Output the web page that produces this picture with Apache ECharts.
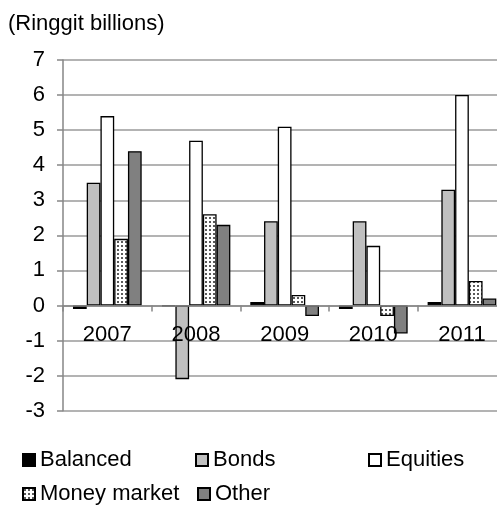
<!DOCTYPE html>
<html>
<head>
<meta charset="utf-8">
<script src="https://cdn.jsdelivr.net/npm/echarts@6/dist/echarts.min.js"></script>
<style>
  html, body { margin: 0; padding: 0; background: #fff; }
  #chart { width: 497px; height: 505px; }
</style>
</head>
<body>
<div id="chart"></div>
<script>
// Net sales by fund type, Ringgit billions
const years = ['2007', '2008', '2009', '2010', '2011'];
const balanced = [-0.1, -0.02, 0.1, -0.1, 0.1];
const bonds = [3.5, -2.1, 2.4, 2.4, 3.3];
const equities = [5.4, 4.7, 5.1, 1.7, 6.0];
const moneyMarket = [1.9, 2.6, 0.3, -0.3, 0.7];
const other = [4.4, 2.3, -0.3, -0.8, 0.2];
const yTicks = { min: -3, max: 7, step: 1 };

// Dotted fill used for the money market bars
function dotPattern() {
  const c = document.createElement('canvas');
  c.width = 4; c.height = 4;
  const ctx = c.getContext('2d');
  ctx.fillStyle = '#ffffff';
  ctx.fillRect(0, 0, 4, 4);
  ctx.fillStyle = '#5a5a5a';
  ctx.fillRect(1, 1, 2, 2);
  return c;
}

const FONT = 'Liberation Sans, Arial, sans-serif';
const FS = 22;
const border = { borderColor: '#000', borderWidth: 1.3 };

const GRID = { left: 63, top: 60, width: 443.3, height: 350.7 };
// Category axis sits on the value axis's zero line
const zeroOffset = -GRID.height * (0 - yTicks.min) / (yTicks.max - yTicks.min);

function bar(name, data, fill) {
  return {
    name, type: 'bar', data,
    barGap: '0%', barCategoryGap: '22.5%',
    itemStyle: Object.assign({ color: fill }, border)
  };
}

function legendAt(name, left, top) {
  return {
    data: [name], left, top, orient: 'horizontal',
    icon: 'rect', itemWidth: 12, itemHeight: 12, padding: 0,
    textStyle: { fontFamily: FONT, fontSize: FS, color: '#000' }
  };
}

const chart = echarts.init(document.getElementById('chart'), null, { renderer: 'canvas' });
chart.setOption({
  animation: false,
  backgroundColor: '#fff',
  title: {
    text: '(Ringgit billions)', left: 8, top: 13, padding: 0,
    textStyle: { fontFamily: FONT, fontSize: FS, fontWeight: 'normal', color: '#000' }
  },
  legend: [
    legendAt('Balanced', 22, 449),
    legendAt('Bonds', 195, 449),
    legendAt('Equities', 368, 449),
    legendAt('Money market', 22, 483),
    legendAt('Other', 197, 483)
  ],
  grid: Object.assign({ containLabel: false, outerBoundsMode: 'none' }, GRID),
  xAxis: {
    type: 'category', data: years, position: 'bottom', offset: zeroOffset, z: 5,
    axisLine: { show: true, onZero: false, lineStyle: { color: '#868686', width: 1.5 } },
    axisTick: { show: true, alignWithLabel: false, length: 6, lineStyle: { color: '#868686', width: 1.5 } },
    axisLabel: { margin: 18, fontFamily: FONT, fontSize: FS, color: '#000' }
  },
  yAxis: {
    type: 'value', min: yTicks.min, max: yTicks.max, interval: yTicks.step,
    axisLine: { show: true, lineStyle: { color: '#868686', width: 1.5 } },
    axisTick: { show: true, length: 6, lineStyle: { color: '#868686', width: 1.5 } },
    splitLine: { show: true, lineStyle: { color: '#9a9a9a', width: 1.5 } },
    axisLabel: { margin: 18, fontFamily: FONT, fontSize: FS, color: '#000' }
  },
  series: [
    bar('Balanced', balanced, '#000000'),
    bar('Bonds', bonds, '#c0c0c0'),
    bar('Equities', equities, '#ffffff'),
    bar('Money market', moneyMarket, { image: dotPattern(), repeat: 'repeat' }),
    bar('Other', other, '#808080')
  ]
});
</script>
</body>
</html>
